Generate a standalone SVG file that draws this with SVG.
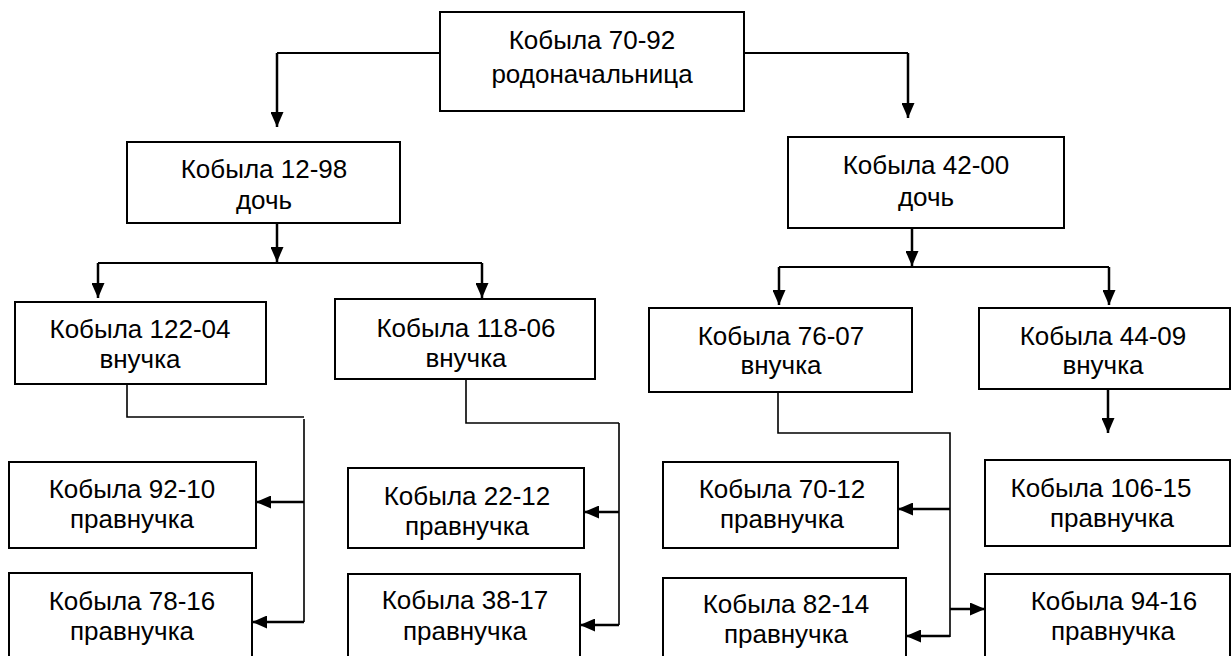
<svg xmlns="http://www.w3.org/2000/svg" width="1231" height="656" viewBox="0 0 1231 656">
<style>
.box{fill:#fff;stroke:#000;stroke-width:2}
.t{font-family:"Liberation Sans",Arial,sans-serif;font-size:26px;fill:#000;text-anchor:middle}
.a{fill:none;stroke:#000;stroke-width:2.5;marker-end:url(#ah)}
.l{fill:none;stroke:#000;stroke-width:1.6}
.h{fill:none;stroke:#000;stroke-width:2}
</style>
<defs>
<marker id="ah" markerUnits="userSpaceOnUse" markerWidth="16" markerHeight="13" refX="15" refY="6.5" orient="auto">
<path d="M0,0 L15,6.5 L0,13 z" fill="#000"/>
</marker>
</defs>
<g id="connectors">
<path class="h" d="M440,53 H277"/>
<path class="a" d="M277,53 V127"/>
<path class="h" d="M744,53 H908"/>
<path class="a" d="M908,53 V118"/>
<path class="a" d="M277,223 V262"/>
<path class="h" d="M98,263 H482"/>
<path class="a" d="M98,263 V298"/>
<path class="a" d="M482,263 V298"/>
<path class="a" d="M912,228 V266"/>
<path class="h" d="M779,267 H1109"/>
<path class="a" d="M779,267 V305"/>
<path class="a" d="M1109,267 V305"/>
<path class="l" d="M127,384 V417 H304 M304,419 V622"/>
<path class="a" d="M304,502 H256"/>
<path class="a" d="M304,622 H252"/>
<path class="l" d="M466,379 V423 H619 M619,423 V625"/>
<path class="a" d="M619,512 H584"/>
<path class="a" d="M619,625 H580"/>
<path class="l" d="M778,392 V433 H950 V637"/>
<path class="a" d="M950,509 H898"/>
<path class="a" d="M950,636 H906"/>
<path class="a" d="M950,609 H985"/>
<path class="a" d="M1108,389 V433"/>
</g>
<g id="n7092"><rect class="box" x="440" y="12" width="304" height="99"/><text class="t" x="592" y="49">Кобыла 70-92</text><text class="t" x="592" y="83">родоначальница</text></g>
<g id="n1298"><rect class="box" x="127" y="142" width="273" height="81"/><text class="t" x="264" y="178">Кобыла 12-98</text><text class="t" x="264" y="209">дочь</text></g>
<g id="n4200"><rect class="box" x="788" y="137" width="276" height="91"/><text class="t" x="926" y="174">Кобыла 42-00</text><text class="t" x="926" y="206">дочь</text></g>
<g id="n12204"><rect class="box" x="15" y="302" width="251" height="82"/><text class="t" x="140" y="338">Кобыла 122-04</text><text class="t" x="140" y="368">внучка</text></g>
<g id="n11806"><rect class="box" x="335" y="299" width="260" height="80"/><text class="t" x="466" y="337">Кобыла 118-06</text><text class="t" x="466" y="367">внучка</text></g>
<g id="n7607"><rect class="box" x="649" y="308" width="263" height="84"/><text class="t" x="781" y="345">Кобыла 76-07</text><text class="t" x="781" y="374">внучка</text></g>
<g id="n4409"><rect class="box" x="979" y="308" width="251" height="81"/><text class="t" x="1103" y="345">Кобыла 44-09</text><text class="t" x="1103" y="374">внучка</text></g>
<g id="n9210"><rect class="box" x="9" y="462" width="247" height="86"/><text class="t" x="132" y="498">Кобыла 92-10</text><text class="t" x="132" y="528">правнучка</text></g>
<g id="n7816"><rect class="box" x="9" y="573" width="243" height="90"/><text class="t" x="132" y="610">Кобыла 78-16</text><text class="t" x="132" y="640">правнучка</text></g>
<g id="n2212"><rect class="box" x="348" y="468" width="236" height="80"/><text class="t" x="467" y="505">Кобыла 22-12</text><text class="t" x="467" y="535">правнучка</text></g>
<g id="n3817"><rect class="box" x="348" y="574" width="232" height="90"/><text class="t" x="465" y="609">Кобыла 38-17</text><text class="t" x="465" y="640">правнучка</text></g>
<g id="n7012"><rect class="box" x="663" y="462" width="235" height="86"/><text class="t" x="782" y="498">Кобыла 70-12</text><text class="t" x="782" y="528">правнучка</text></g>
<g id="n8214"><rect class="box" x="663" y="578" width="243" height="90"/><text class="t" x="786" y="613">Кобыла 82-14</text><text class="t" x="786" y="643">правнучка</text></g>
<g id="n10615"><rect class="box" x="985" y="460" width="245" height="86"/><text class="t" x="1101" y="497">Кобыла 106-15 </text><text class="t" x="1112" y="527">правнучка</text></g>
<g id="n9416"><rect class="box" x="985" y="574" width="245" height="90"/><text class="t" x="1114" y="610">Кобыла 94-16</text><text class="t" x="1113" y="640">правнучка</text></g>
</svg>
